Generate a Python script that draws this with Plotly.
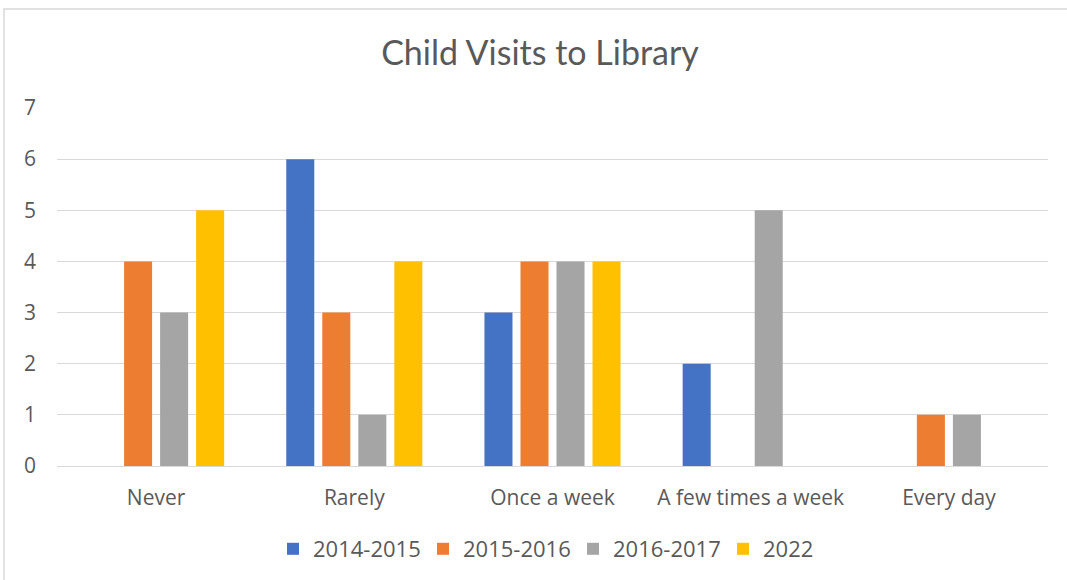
import plotly.graph_objects as go

# Survey answers: how often the child visits the library
categories = ["Never", "Rarely", "Once a week", "A few times a week", "Every day"]
series_names = ["2014-2015", "2015-2016", "2016-2017", "2022"]
values_2014_2015 = [0, 6, 3, 2, 0]
values_2015_2016 = [4, 3, 4, 0, 1]
values_2016_2017 = [3, 1, 4, 5, 1]
values_2022 = [5, 4, 4, 0, 0]
y_ticks = [0, 1, 2, 3, 4, 5, 6, 7]

series_values = [values_2014_2015, values_2015_2016, values_2016_2017, values_2022]
colors = ["#4472C4", "#ED7D31", "#A5A5A5", "#FFC000"]

FONT = "'Open Sans', sans-serif"
TITLE_FONT = "Lato, sans-serif"
TEXT = "#595959"
GRID = "#D9D9D9"

W, H = 1067, 580
L, R, T, B = 57, 19, 108, 114

fig = go.Figure()
for name, vals, col in zip(series_names, series_values, colors):
    fig.add_trace(go.Bar(
        x=categories, y=vals, name=name,
        marker=dict(color=col, line=dict(width=0)),
    ))

plot_w = W - L - R
plot_h = H - T - B

fig.update_layout(
    width=W, height=H,
    margin=dict(l=L, r=R, t=T, b=B),
    paper_bgcolor="white", plot_bgcolor="white",
    barmode="group", bargap=0.273, bargroupgap=0.222,
    font=dict(family=FONT, color=TEXT, size=21),
    title=dict(
        text="Child Visits to Library",
        font=dict(family=TITLE_FONT, size=34, color=TEXT),
        xref="container", yref="container",
        x=540 / W, y=1 - 53 / H, xanchor="center", yanchor="middle",
    ),
    xaxis=dict(
        showgrid=False, showline=False, ticks="",
        tickfont=dict(size=21, color=TEXT),
        ticklabelstandoff=17,
    ),
    yaxis=dict(
        range=[0, 7], tickvals=y_ticks, showgrid=True, gridcolor=GRID, gridwidth=1,
        zeroline=True, zerolinecolor=GRID, zerolinewidth=1,
        showline=False, ticks="",
        tickfont=dict(size=21, color=TEXT),
        ticklabelstandoff=20,
    ),
    legend=dict(
        orientation="h", x=573 / W, xanchor="center", xref="container",
        y=1 - 549 / H, yanchor="middle", yref="container",
        font=dict(size=22, color=TEXT),
        entrywidth=105, entrywidthmode="pixels",
        itemclick=False,
    ),
    showlegend=True,
)

# Light chart-area frame
fig.add_shape(
    type="rect", xref="paper", yref="paper",
    x0=(4 - L) / plot_w, x1=(W + 20 - L) / plot_w,
    y0=-(H + 20 - (T + plot_h)) / plot_h, y1=(T + plot_h - 9) / plot_h,
    line=dict(color=GRID, width=1.5), fillcolor="rgba(0,0,0,0)", layer="below",
)

fig.write_html("out.html")
